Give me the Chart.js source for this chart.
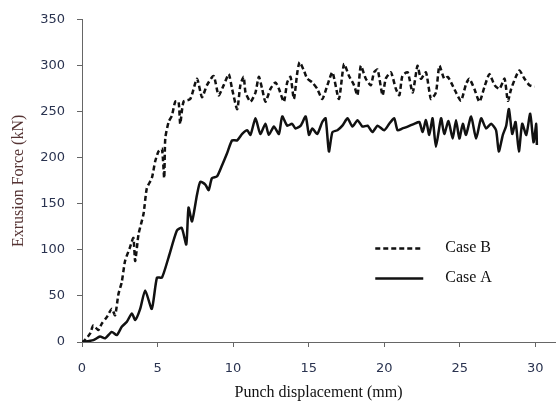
<!DOCTYPE html>
<html>
<head>
<meta charset="utf-8">
<script src="https://cdn.jsdelivr.net/npm/chart.js@4/dist/chart.umd.min.js"></script>
<style>
  html, body { margin: 0; padding: 0; background: #fff; }
  #wrap { width: 558px; height: 404px; }
</style>
</head>
<body>
<div id="wrap"><canvas id="myChart" width="558" height="404"></canvas></div>
<script>
// data
var seriesNames = ["Case B", "Case A"];

var caseBX = [0, 0.09, 0.53, 0.75, 1.08, 1.31, 1.64, 1.97, 2.19, 2.41, 2.63, 2.85, 3.18, 3.4, 3.52, 3.74, 4.07, 4.29, 4.62, 4.84,
  5.06, 5.29, 5.44, 5.51, 5.73, 5.95, 6.17, 6.39, 6.5, 6.72, 7.17, 7.61, 7.94, 8.27, 8.71, 9.04, 9.38, 9.71, 9.93, 10.27,
  10.48, 10.7, 10.82, 11.15, 11.48, 11.7, 11.92, 12.14, 12.47, 12.8, 13.03, 13.36, 13.58, 13.8, 14.02, 14.25, 14.4, 14.68, 14.91, 15.24,
  15.57, 15.9, 16.24, 16.57, 17.0, 17.34, 17.67, 18.0, 18.23, 18.45, 18.78, 19.11, 19.33, 19.56, 19.89, 20.1, 20.44, 20.77, 21.0, 21.2,
  21.55, 21.88, 22.2, 22.43, 22.76, 23.09, 23.42, 23.65, 23.97, 24.2, 24.42, 24.75, 25.08, 25.41, 25.63, 25.96, 26.3, 26.63, 26.96, 27.3,
  27.63, 27.96, 28.18, 28.4, 28.73, 28.95, 29.28, 29.61, 29.95];
var caseBY = [0, 0.3, 9, 18, 13, 20, 27, 36, 29, 52, 65, 88, 103, 113, 88, 117, 139, 167, 178, 196,
  207, 210, 178, 221, 239, 246, 261, 261, 237, 261, 264, 286, 266, 279, 289, 268, 279, 291, 275, 253,
  279, 288, 271, 261, 271, 288, 275, 261, 275, 282, 275, 261, 282, 288, 264, 293, 304, 295, 286, 282,
  275, 264, 279, 293, 264, 302, 289, 279, 268, 300, 286, 279, 293, 296, 268, 286, 293, 275, 268, 289,
  293, 271, 300, 286, 293, 264, 271, 300, 286, 288, 282, 271, 262, 280, 286, 275, 261, 277, 291, 279,
  275, 286, 262, 275, 289, 295, 286, 279, 277];

var caseAX = [0, 0.75, 1.19, 1.53, 1.97, 2.3, 2.63, 2.97, 3.3, 3.52, 3.85, 4.18, 4.62, 4.96, 5.29, 5.73, 6.28, 6.6, 6.9, 7.05,
  7.28, 7.61, 7.83, 8.16, 8.38, 8.6, 8.94, 9.27, 9.6, 9.93, 10.27, 10.6, 10.93, 11.15, 11.48, 11.8, 12.14, 12.36, 12.7, 13.03,
  13.25, 13.58, 13.9, 14.13, 14.47, 14.8, 15.02, 15.24, 15.57, 15.9, 16.12, 16.34, 16.57, 16.9, 17.23, 17.57, 17.9, 18.23, 18.56, 18.9,
  19.22, 19.56, 20.0, 20.33, 20.66, 20.88, 21.21, 21.55, 21.98, 22.32, 22.54, 22.76, 22.98, 23.2, 23.42, 23.76, 23.97, 24.25, 24.53, 24.75,
  24.97, 25.2, 25.41, 25.75, 26.08, 26.41, 26.74, 27.07, 27.4, 27.58, 27.85, 28.07, 28.25, 28.47, 28.69, 28.91, 29.13, 29.4, 29.66, 29.88,
  30.06, 30.1];
var caseAY = [0, 2, 6, 4, 11, 7.5, 16.5, 22, 31, 24, 36, 56, 36, 70, 70, 92, 121, 124, 106, 146,
  131, 160, 174, 171, 165, 178, 180, 192, 205, 219, 219, 226, 230, 225, 243, 226, 237, 225, 234, 226,
  245, 235, 237, 232, 235, 245, 225, 232, 226, 239, 243, 207, 228, 230, 235, 243, 234, 241, 234, 235,
  228, 235, 230, 237, 243, 230, 232, 234, 237, 239, 228, 241, 225, 243, 212, 243, 226, 240, 221, 241,
  221, 237, 225, 245, 221, 243, 232, 237, 230, 207, 225, 235, 253, 226, 239, 207, 237, 225, 248, 217,
  237, 214];

var xTicks = [0, 5, 10, 15, 20, 25, 30];
var yTicks = [0, 50, 100, 150, 200, 250, 300, 350];

function toPoints(xs, ys) {
  var pts = [];
  for (var i = 0; i < xs.length; i++) pts.push({ x: xs[i], y: ys[i] });
  return pts;
}

// legend drawn inside the plot, like the original
var insideLegend = {
  id: 'insideLegend',
  afterDatasetsDraw: function (chart) {
    var ctx = chart.ctx;
    var area = chart.chartArea;
    var x0 = area.left + (area.right - area.left) * 0.62;
    var x1 = x0 + 48;
    var y0 = area.top + (area.bottom - area.top) * 0.71;
    var gap = 30;
    chart.data.datasets.forEach(function (ds, i) {
      var y = y0 + i * gap;
      ctx.save();
      ctx.strokeStyle = ds.borderColor;
      ctx.lineWidth = ds.borderWidth;
      ctx.setLineDash(ds.borderDash || []);
      ctx.beginPath();
      ctx.moveTo(x0, y);
      ctx.lineTo(x1, y);
      ctx.stroke();
      ctx.setLineDash([]);
      ctx.fillStyle = '#111';
      ctx.font = '16px "Liberation Serif", serif';
      ctx.textBaseline = 'middle';
      ctx.fillText(ds.label, x1 + 22, y - 1);
      ctx.restore();
    });
  }
};

var ctx = document.getElementById('myChart').getContext('2d');
var chart = new Chart(ctx, {
  type: 'line',
  data: {
    datasets: [{
      label: seriesNames[0],
      data: toPoints(caseBX, caseBY),
      borderColor: '#111',
      borderWidth: 2.5,
      borderDash: [5, 3],
      pointRadius: 0,
      tension: 0.2,
      fill: false
    }, {
      label: seriesNames[1],
      data: toPoints(caseAX, caseAY),
      borderColor: '#111',
      borderWidth: 2.5,
      pointRadius: 0,
      tension: 0.2,
      fill: false
    }]
  },
  options: {
    responsive: false,
    animation: false,
    layout: { padding: { top: 17, right: 3, left: 0, bottom: 0 } },
    plugins: {
      legend: { display: false },
      tooltip: { enabled: false }
    },
    scales: {
      x: {
        type: 'linear',
        min: 0,
        max: 31.3,
        afterBuildTicks: function (scale) {
          scale.ticks = xTicks.map(function (v) { return { value: v }; });
        },
        afterFit: function (scale) { scale.height = 62; },
        grid: { drawOnChartArea: false, drawTicks: true, tickLength: 5, color: '#666' },
        border: { display: true, color: '#666', width: 1 },
        ticks: {
          padding: 14,
          maxRotation: 0,
          color: '#2a3350',
          font: { family: '"DejaVu Sans", Verdana, sans-serif', size: 13 }
        },
        title: {
          display: true,
          text: 'Punch displacement (mm)',
          color: '#111',
          padding: { top: 0, bottom: 2 },
          font: { family: '"Liberation Serif", serif', size: 16 }
        }
      },
      y: {
        type: 'linear',
        min: 0,
        max: 350,
        afterBuildTicks: function (scale) {
          scale.ticks = yTicks.map(function (v) { return { value: v }; });
        },
        afterFit: function (scale) { scale.width = 82; },
        grid: { drawOnChartArea: false, drawTicks: true, tickLength: 5, color: '#666' },
        border: { display: true, color: '#666', width: 1 },
        ticks: {
          padding: 12,
          color: '#2a3350',
          font: { family: '"DejaVu Sans", Verdana, sans-serif', size: 13 }
        },
        title: {
          display: true,
          text: 'Exrusion Force (kN)',
          color: '#553333',
          padding: { top: 9, bottom: 0 },
          font: { family: '"Liberation Serif", serif', size: 16 }
        }
      }
    }
  },
  plugins: [insideLegend]
});
</script>
</body>
</html>
